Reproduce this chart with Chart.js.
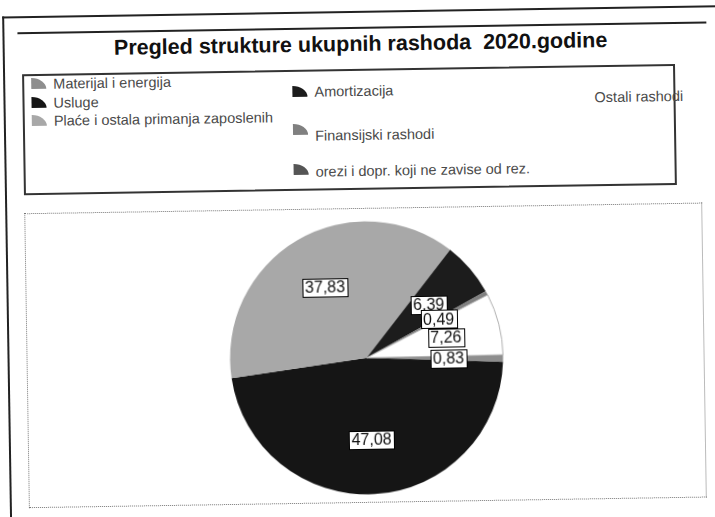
<!DOCTYPE html>
<html>
<head>
<meta charset="utf-8">
<script src="https://cdn.jsdelivr.net/npm/chart.js@4.4.0/dist/chart.umd.min.js"></script>
<style>
  html, body { margin: 0; padding: 0; background: #fff; width: 715px; height: 517px; overflow: hidden; }
  #page {
    position: absolute; left: 0; top: 0; width: 715px; height: 517px;
    transform: rotate(-0.9deg); transform-origin: 357px 258px;
    font-family: 'Liberation Sans', Arial, sans-serif;
  }
  .outer { position: absolute; left: 6px; top: 11px; width: 730px; height: 530px; border-left: 2px solid #222; border-top: 2px solid #222; }
  .rule { position: absolute; left: 21px; top: 27px; width: 689px; border-top: 2px solid #222; }
  .title { position: absolute; left: 0; top: 32px; width: 728px; line-height: 24px; text-align: center;
           font-weight: bold; font-size: 21.5px; white-space: pre; color: #111; }
  .legend-box { position: absolute; left: 25px; top: 69px; width: 653px; height: 121px; box-sizing: border-box; border: 2px solid #333; }
  .plot-box { position: absolute; left: 25px; top: 208px; width: 678px; height: 295px; box-sizing: border-box; border: 1px dotted #777; }
  #pie { position: absolute; left: 25px; top: 208px; }
  .leg-item { position: absolute; font-size: 14.5px; line-height: 16px; color: #4a4a4a; white-space: pre; }
  .leg-icon { position: absolute; width: 15px; height: 11px; border-top-right-radius: 100%; }
</style>
</head>
<body>
<div id="page">
  <div class="outer"></div>
  <div class="rule"></div>
  <div class="title">Pregled strukture ukupnih rashoda  2020.godine</div>
  <div class="legend-box"></div>
  <div id="legend"></div>
  <div class="plot-box"></div>
  <canvas id="pie" width="678" height="295"></canvas>
</div>
<script>
(function() {
  'use strict';

  // Expense categories and their share (%) as printed on the slices
  var categories = [
    'Materijal i energija',
    'Usluge',
    'Plaće i ostala primanja zaposlenih',
    'Amortizacija',
    'Finansijski rashodi',
    'orezi i dopr. koji ne zavise od rez.',
    'Ostali rashodi'
  ];
  var shares = [0.83, 47.08, 37.83, 6.39, 0.49, 0, 7.26];
  var sliceColors = ['#8e8e8e', '#151515', '#a8a8a8', '#1c1c1c', '#808080', '#555555', '#ffffff'];
  var sliceBorders = [0, 0, 0, 0, 0, 0, 1];

  // Where each legend entry sits on the page (x of icon, y of text centre)
  var legendSlots = [
    { x: 34, y: 79, iconDy: 0 },
    { x: 34, y: 98, iconDy: 0 },
    { x: 34, y: 116, iconDy: 0 },
    { x: 295, y: 91, iconDy: 0 },
    { x: 295, y: 135, iconDy: -6 },
    { x: 295, y: 171, iconDy: -2 },
    { x: 575, y: 101, iconDy: 0 }
  ];

  function formatValue(v) {
    return v.toFixed(2).replace('.', ',');
  }

  // Boxed value labels drawn at 60% of the radius on each slice
  var sliceLabels = {
    id: 'sliceLabels',
    afterDatasetsDraw: function(chart) {
      var ctx = chart.ctx;
      var meta = chart.getDatasetMeta(0);
      ctx.save();
      ctx.font = '16px "Liberation Sans", Arial, sans-serif';
      ctx.textAlign = 'center';
      ctx.textBaseline = 'middle';
      meta.data.forEach(function(arc, i) {
        var value = chart.data.datasets[0].data[i];
        if (!value) return;
        var mid = (arc.startAngle + arc.endAngle) / 2;
        var r = arc.outerRadius * 0.6;
        var x = arc.x + Math.cos(mid) * r;
        var y = arc.y + Math.sin(mid) * r;
        var text = formatValue(value);
        var w = Math.round(ctx.measureText(text).width + 5);
        var h = 18;
        var bx = Math.round(x - w / 2) + 0.5;
        var by = Math.round(y - h / 2) + 0.5;
        ctx.fillStyle = '#fff';
        ctx.fillRect(bx, by, w, h);
        ctx.strokeStyle = '#000';
        ctx.lineWidth = 1;
        ctx.strokeRect(bx, by, w, h);
        ctx.fillStyle = '#111';
        ctx.fillText(text, x, y + 1);
      });
      ctx.restore();
    }
  };

  function buildLegend(chart) {
    var holder = document.getElementById('legend');
    var ds = chart.data.datasets[0];
    var html = '';
    chart.data.labels.forEach(function(label, i) {
      var slot = legendSlots[i];
      html += '<div class="leg-icon" style="left:' + slot.x + 'px;top:' + (slot.y - 6 + slot.iconDy) + 'px;background:' + ds.backgroundColor[i] + ';"></div>' +
        '<div class="leg-item" style="left:' + (slot.x + 22) + 'px;top:' + (slot.y - 8) + 'px;">' + label + '</div>';
    });
    holder.innerHTML = html;
  }

  var chart = new Chart(document.getElementById('pie').getContext('2d'), {
    type: 'pie',
    data: {
      labels: categories,
      datasets: [{
        data: shares,
        backgroundColor: sliceColors,
        borderColor: '#b0b0b0',
        borderWidth: sliceBorders,
        hoverOffset: 0
      }]
    },
    options: {
      responsive: false,
      animation: false,
      rotation: 89.6,
      layout: { padding: { left: 203, right: 201, top: 13, bottom: 8 } },
      plugins: {
        legend: { display: false },
        tooltip: { enabled: false },
        title: { display: false }
      }
    },
    plugins: [sliceLabels]
  });

  buildLegend(chart);
})();
</script>
</body>
</html>
